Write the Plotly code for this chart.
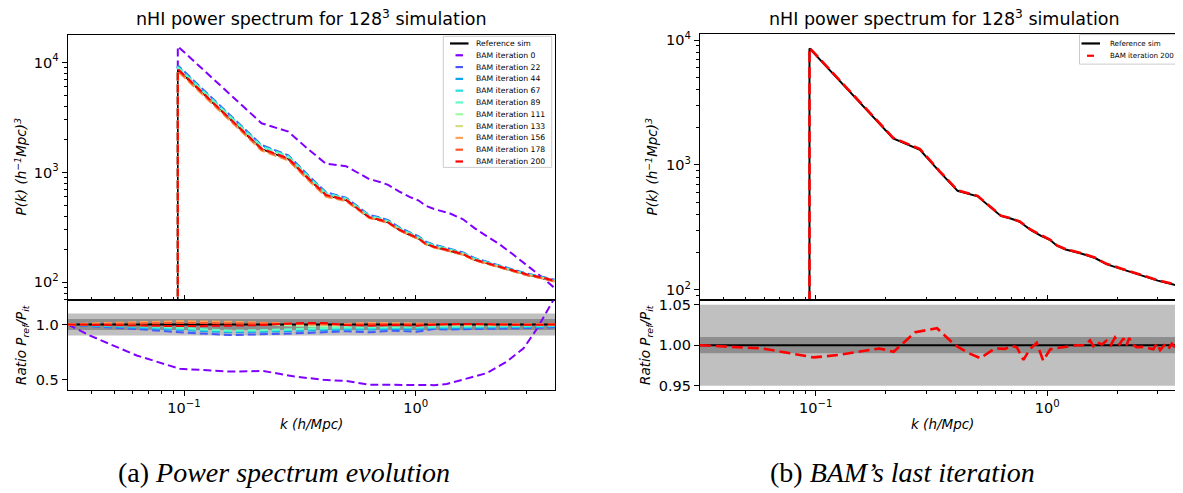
import plotly.graph_objects as go

# page is rendered with an 8px body margin: the figure occupies 8..1183 x 8..493
W, H = 1183, 493
OFF = 8
FW, FH = W - OFF, H - OFF

# ------------------------------------------------------------------ data
# power spectrum k bins (h/Mpc); the first bin is repeated (value below the axis)
k_pk = [0.094, 0.094, 0.216, 0.282, 0.344, 0.41, 0.50, 0.56, 0.63, 0.70, 0.76, 0.85,
        0.94, 1.03, 1.10, 1.20, 1.40, 1.60, 1.80, 2.00, 2.30, 2.60, 3.00, 3.50, 4.05]

P_ref = [10, 8600, 1630, 1320, 875, 620, 560, 470, 390, 370, 350, 300,
         270, 250, 225, 210, 195, 180, 160, 150, 138, 128, 118, 110, 102]

P_it0 = [10, 14000, 2800, 2350, 1620, 1200, 1140, 1000, 870, 820, 770, 670,
         600, 555, 500, 465, 425, 375, 310, 268, 222, 183, 145, 112, 86]
P_it22 = [10, 9400, 1780, 1430, 940, 660, 590, 495, 410, 390, 368, 316,
          284, 262, 236, 220, 203, 187, 166, 155, 142, 132, 121, 113, 105]
P_it44 = [10, 9200, 1750, 1410, 925, 650, 585, 490, 405, 385, 363, 312,
          281, 259, 234, 218, 201, 185, 165, 154, 141, 131, 120, 112, 104]
P_it67 = [10, 9100, 1730, 1400, 915, 645, 580, 485, 402, 382, 360, 310,
          279, 257, 232, 216, 200, 184, 164, 153, 140, 130, 119, 111, 103]
P_it89 = [10, 9000, 1720, 1390, 910, 640, 575, 480, 400, 380, 358, 308,
          277, 255, 230, 215, 199, 183, 163, 152, 139, 129, 119, 111, 103]
P_it111 = [10, 8400, 1600, 1300, 860, 610, 555, 468, 388, 368, 349, 299,
           269, 249, 224, 209, 194, 179, 159, 149, 137, 127, 117, 109, 101]
P_it133 = [10, 8350, 1590, 1290, 855, 605, 552, 466, 386, 366, 348, 298,
           268, 248, 223, 209, 194, 179, 159, 149, 137, 127, 117, 109, 101]
P_it156 = [10, 8300, 1580, 1285, 850, 600, 550, 464, 385, 365, 347, 297,
           268, 248, 223, 208, 193, 178, 159, 149, 137, 127, 117, 109, 101]
P_it178 = [10, 8500, 1610, 1305, 865, 612, 556, 467, 388, 368, 349, 299,
           269, 249, 224, 209, 194, 179, 159, 149, 137, 127, 117, 109, 101]
P_it200 = [10, 8700, 1650, 1340, 885, 625, 565, 472, 392, 372, 352, 302,
           272, 251, 226, 211, 196, 181, 161, 151, 139, 129, 119, 111, 103]

iterations = [0, 22, 44, 67, 89, 111, 133, 156, 178, 200]
P_iters = [P_it0, P_it22, P_it44, P_it67, P_it89, P_it111, P_it133, P_it156, P_it178, P_it200]

# ratio P_ref / P_it, panel (a)
k_ratio_a = [0.0316, 0.0393, 0.0625, 0.096, 0.158, 0.22, 0.30, 0.40, 0.50, 0.635, 0.80,
             1.01, 1.20, 1.36, 1.71, 2.02, 2.47, 2.92, 3.33, 3.68, 4.05]
R_it0 = [1.0, 0.90, 0.72, 0.60, 0.575, 0.58, 0.53, 0.50, 0.49, 0.455, 0.455,
         0.45, 0.452, 0.462, 0.515, 0.56, 0.665, 0.785, 0.96, 1.11, 1.27]
R_it22 = [1.0, 0.985, 0.96, 0.93, 0.905, 0.91, 0.92, 0.93, 0.94, 0.93, 0.945,
          0.935, 0.96, 0.955, 0.96, 0.965, 0.965, 0.97, 0.97, 0.97, 0.98]
R_it44 = [1.0, 0.99, 0.97, 0.95, 0.93, 0.935, 0.945, 0.95, 0.955, 0.955, 0.96,
          0.955, 0.97, 0.965, 0.97, 0.975, 0.975, 0.975, 0.98, 0.98, 0.985]
R_it67 = [1.0, 0.995, 0.98, 0.96, 0.94, 0.945, 0.955, 0.96, 0.965, 0.965, 0.97,
          0.97, 0.975, 0.975, 0.98, 0.98, 0.98, 0.985, 0.985, 0.985, 0.99]
R_it89 = [1.0, 0.998, 0.99, 0.97, 0.945, 0.95, 0.96, 0.97, 0.975, 0.975, 0.98,
          0.98, 0.985, 0.985, 0.985, 0.99, 0.99, 0.99, 0.99, 0.99, 0.995]
R_it111 = [1.0, 1.005, 1.01, 1.02, 1.015, 1.0, 0.99, 0.985, 0.99, 1.0, 1.005,
           1.0, 1.0, 1.0, 1.0, 1.0, 1.0, 1.0, 1.0, 1.0, 1.0]
R_it133 = [1.0, 1.005, 1.015, 1.025, 1.02, 1.01, 1.0, 0.995, 1.0, 1.01, 1.01,
           1.005, 1.005, 1.005, 1.0, 1.0, 1.0, 1.0, 1.0, 1.0, 1.0]
R_it156 = [1.0, 1.01, 1.02, 1.03, 1.025, 1.015, 1.005, 1.0, 1.005, 1.015, 1.01,
           1.01, 1.005, 1.005, 1.0, 1.005, 1.0, 1.0, 1.0, 1.0, 1.0]
R_it178 = [1.0, 1.005, 1.01, 1.015, 1.015, 1.01, 1.005, 1.0, 1.0, 1.005, 1.005,
           1.0, 1.0, 1.0, 1.0, 1.0, 1.0, 1.0, 1.0, 1.0, 1.0]
R_it200 = [1.0, 0.998, 0.992, 0.986, 0.99, 0.996, 1.012, 1.015, 0.995, 0.99, 0.995,
           0.99, 0.998, 1.003, 1.005, 1.005, 1.0, 0.998, 1.0, 1.0, 1.0]
R_iters = [R_it0, R_it22, R_it44, R_it67, R_it89, R_it111, R_it133, R_it156, R_it178, R_it200]
R_ref_a = [1.0] * len(k_ratio_a)

# ratio P_ref / P_it200, panel (b)
k_ratio_b = [0.0316, 0.059, 0.098, 0.126, 0.188, 0.217, 0.269, 0.334, 0.40, 0.46, 0.514,
             0.593, 0.656, 0.70, 0.738, 0.789, 0.84, 0.90, 0.96, 1.03, 1.10, 1.22, 1.34,
             1.45, 1.53, 1.58, 1.63, 1.72, 1.80, 1.88, 1.96, 2.05, 2.13, 2.20, 2.26, 2.33,
             2.43, 2.60, 2.75, 2.87, 2.97, 3.07, 3.20, 3.33, 3.45, 3.62, 3.75, 3.90, 4.05]
R_b_it200 = [1.0, 0.996, 0.985, 0.988, 0.996, 0.992, 1.016, 1.021, 1.0, 0.99, 0.984,
             0.996, 0.9955, 0.999, 0.9976, 0.982, 0.995, 1.003, 0.981, 0.995, 0.9965, 0.998, 1.0,
             1.0, 1.006, 0.999, 1.004, 1.001, 1.0055, 1.0, 1.0096, 1.001, 1.0085, 1.0, 1.009, 1.001,
             0.9976, 0.998, 0.9965, 0.995, 1.002, 0.994, 1.0, 0.995, 1.002, 0.995, 1.001, 0.996, 1.0]
R_ref_b = [1.0] * len(k_ratio_b)

# tick labels
x_major = [0.1, 1.0]
x_major_text = ["10<sup>\u22121</sup>", "10<sup>0</sup>"]
y_major = [100, 1000, 10000]
y_major_text = ["10<sup>2</sup>", "10<sup>3</sup>", "10<sup>4</sup>"]
ratio_a_ticks = [0.5, 1.0]
ratio_a_text = ["0.5", "1.0"]
ratio_b_ticks = [0.95, 1.00, 1.05]
ratio_b_text = ["0.95", "1.00", "1.05"]

# ------------------------------------------------------------------ styles
iter_colors = ["#8000ff", "#4757fb", "#0ea4f0", "#2adddd", "#63fbc3",
               "#9cfba4", "#d4dd80", "#ffa457", "#ff572c", "#ff0000"]
FONT = "DejaVu Sans"
TICKF = 14.5


def px(x):
    return (x - OFF) / FW


def py(y):
    return 1 - (y - OFF) / FH


x_minor = [0.04, 0.05, 0.06, 0.07, 0.08, 0.09, 0.2, 0.3, 0.4, 0.5, 0.6, 0.7, 0.8, 0.9, 2, 3, 4]
y_minor = [70, 80, 90, 200, 300, 400, 500, 600, 700, 800, 900,
           2000, 3000, 4000, 5000, 6000, 7000, 8000, 9000]

fig = go.Figure()

# ---- panel (a) top
fig.add_trace(go.Scatter(x=k_pk, y=P_ref, mode="lines", name="Reference sim",
                         line=dict(color="black", width=1.6), xaxis="x", yaxis="y",
                         showlegend=False))
for it, P, c in zip(iterations, P_iters, iter_colors):
    fig.add_trace(go.Scatter(x=k_pk, y=P, mode="lines", name=f"BAM iteration {it}",
                             line=dict(color=c, width=2, dash="8px,4px"),
                             xaxis="x", yaxis="y", showlegend=False))

# ---- panel (a) ratio
fig.add_trace(go.Scatter(x=k_ratio_a, y=R_ref_a, mode="lines", name="Reference sim",
                         line=dict(color="black", width=2), xaxis="x2", yaxis="y2",
                         showlegend=False))
for it, R, c in zip(iterations, R_iters, iter_colors):
    fig.add_trace(go.Scatter(x=k_ratio_a, y=R, mode="lines", name=f"BAM iteration {it}",
                             line=dict(color=c, width=2, dash="8px,4px"),
                             xaxis="x2", yaxis="y2", showlegend=False))

# ---- panel (b) top
fig.add_trace(go.Scatter(x=k_pk, y=P_ref, mode="lines", name="Reference sim",
                         line=dict(color="black", width=2), xaxis="x3", yaxis="y3",
                         showlegend=False))
fig.add_trace(go.Scatter(x=k_pk, y=P_it200, mode="lines", name="BAM iteration 200",
                         line=dict(color="#ff0000", width=2.6, dash="11px,5px"),
                         xaxis="x3", yaxis="y3", showlegend=False))

# ---- panel (b) ratio
fig.add_trace(go.Scatter(x=k_ratio_b, y=R_ref_b, mode="lines", name="Reference sim",
                         line=dict(color="black", width=2), xaxis="x4", yaxis="y4",
                         showlegend=False))
fig.add_trace(go.Scatter(x=k_ratio_b, y=R_b_it200, mode="lines", name="BAM iteration 200",
                         line=dict(color="#ff0000", width=2.6, dash="11px,5px"),
                         xaxis="x4", yaxis="y4", showlegend=False))

# ------------------------------------------------------------------ axes
L_dom = [px(67.7), px(555)]
R_dom = [px(700), 1.0]
top_dom_L = [py(301.3), py(31)]
top_dom_R = [py(301.3), py(30)]
rat_dom = [py(392), py(301.3)]

common = dict(showline=True, linecolor="black", linewidth=1.2, showgrid=False,
              zeroline=False, tickcolor="black", tickwidth=1.2,
              tickfont=dict(family=FONT, size=TICKF, color="black"))


def xax(dom, rng, anchor, labels, ticks, mirror=True):
    d = dict(common)
    d.update(domain=dom, type="log", range=rng, anchor=anchor, mirror=mirror,
             tickmode="array", tickvals=x_major, ticktext=x_major_text,
             showticklabels=labels, ticks=ticks, ticklen=5,
             minor=dict(tickmode="array", tickvals=x_minor, ticks=ticks, ticklen=3,
                        tickcolor="black", tickwidth=1, showgrid=False))
    return d


def ylog(dom, rng, anchor, mirror):
    d = dict(common)
    d.update(domain=dom, type="log", range=rng, anchor=anchor, mirror=mirror,
             tickmode="array", tickvals=y_major, ticktext=y_major_text,
             ticks="outside", ticklen=5,
             minor=dict(tickmode="array", tickvals=y_minor, ticks="outside", ticklen=3,
                        tickcolor="black", tickwidth=1, showgrid=False))
    return d


def ylin(dom, rng, anchor, tv, tt, mirror):
    d = dict(common)
    d.update(domain=dom, range=rng, anchor=anchor, mirror=mirror,
             tickmode="array", tickvals=tv, ticktext=tt, ticks="outside", ticklen=5)
    return d


fig.update_layout(
    xaxis=xax(L_dom, [-1.502, 0.601], "y", False, "inside"),
    yaxis=ylog(top_dom_L, [1.836, 4.253], "x", True),
    xaxis2=xax(L_dom, [-1.502, 0.601], "y2", True, "outside"),
    yaxis2=ylin(rat_dom, [0.411, 1.218], "x2", ratio_a_ticks, ratio_a_text, True),
    xaxis3=xax(R_dom, [-1.4996, 0.586], "y3", False, "inside"),
    yaxis3=ylog(top_dom_R, [1.913, 4.053], "x3", False),
    xaxis4=xax(R_dom, [-1.4996, 0.586], "y4", True, "outside"),
    yaxis4=ylin(rat_dom, [0.9452, 1.0552], "x4", ratio_b_ticks, ratio_b_text, False),
)

# ------------------------------------------------------------------ shapes (bands)
shapes = []
for xr, yr, lo, hi, col in [("x2 domain", "y2", 0.9, 1.1, "#c0c0c0"),
                            ("x2 domain", "y2", 0.95, 1.05, "#8e8e8e"),
                            ("x4 domain", "y4", 0.95, 1.05, "#c0c0c0"),
                            ("x4 domain", "y4", 0.99, 1.01, "#8e8e8e")]:
    shapes.append(dict(type="rect", xref=xr, yref=yr, x0=0, x1=1, y0=lo, y1=hi,
                       fillcolor=col, line=dict(width=0), layer="below"))

annotations = []


# ------------------------------------------------------------------ manual legends
def legend(box, entries, line_x, dash_x, text_x, y0, dy, fsize):
    x0, x1, yt, yb = box
    shapes.append(dict(type="rect", xref="paper", yref="paper", x0=px(x0), x1=px(x1),
                       y0=py(yb), y1=py(yt), fillcolor="rgba(255,255,255,0.85)",
                       line=dict(color="#cccccc", width=1), layer="above"))
    for i, (name, col, solid) in enumerate(entries):
        yy = y0 + i * dy
        xa, xb = line_x if solid else dash_x
        shapes.append(dict(type="line", xref="paper", yref="paper", x0=px(xa), x1=px(xb),
                           y0=py(yy), y1=py(yy), line=dict(color=col, width=2.2),
                           layer="above"))
        annotations.append(dict(x=px(text_x), y=py(yy), xref="paper", yref="paper",
                                text=name, showarrow=False, xanchor="left", yanchor="middle",
                                font=dict(family=FONT, size=fsize, color="black")))


entries_a = [("Reference sim", "black", True)] + \
    [(f"BAM iteration {it}", c, False) for it, c in zip(iterations, iter_colors)]
legend((443.3, 551.7, 32.7, 166), entries_a, (450, 468.5), (455.5, 463), 474.5, 40, 12, 7.7)

entries_b = [("Reference sim", "black", True), ("BAM iteration 200", "#ff0000", False)]
legend((1079.5, 1180, 31, 61), entries_b, (1081.5, 1100), (1087, 1094), 1108, 40, 12.5, 7.1)

# ------------------------------------------------------------------ text
title = "nHI power spectrum for 128<sup>3</sup> simulation"
for cx in [(67.7 + 555) / 2, 944]:
    annotations.append(dict(x=px(cx), y=py(14), xref="paper", yref="paper", text=title,
                            showarrow=False, xanchor="center", yanchor="middle",
                            font=dict(family=FONT, size=17.5, color="black")))

ylab = "<i>P(k) (h<sup>\u22121</sup>Mpc)<sup>3</sup></i>"
rlab = "<i>Ratio P<sub>ref</sub>/P<sub>it</sub></i>"
for x_top, x_rat in [(21, 22), (652, 646)]:
    annotations.append(dict(x=px(x_top), y=py(166), xref="paper", yref="paper", text=ylab,
                            textangle=-90, showarrow=False, xanchor="center",
                            yanchor="middle", font=dict(family=FONT, size=13.5, color="black")))
    annotations.append(dict(x=px(x_rat), y=py(346.5), xref="paper", yref="paper", text=rlab,
                            textangle=-90, showarrow=False, xanchor="center",
                            yanchor="middle", font=dict(family=FONT, size=13.5, color="black")))

for cx in [(67.7 + 555) / 2, 942]:
    annotations.append(dict(x=px(cx), y=py(427), xref="paper", yref="paper",
                            text="<i>k (h/Mpc)</i>", showarrow=False, xanchor="center",
                            yanchor="middle", font=dict(family=FONT, size=13.5, color="black")))

for cx, txt in [(284, "(a) <i>Power spectrum evolution</i>"),
                (902, "(b) <i>BAM\u2019s last iteration</i>")]:
    annotations.append(dict(x=px(cx), y=py(476), xref="paper", yref="paper", text=txt,
                            showarrow=False, xanchor="center", yanchor="middle",
                            font=dict(family="Liberation Serif", size=28, color="black")))

fig.update_layout(width=FW, height=FH, margin=dict(l=0, r=0, t=0, b=0),
                  paper_bgcolor="white", plot_bgcolor="white",
                  shapes=shapes, annotations=annotations, showlegend=False)

fig.write_html("out.html")
